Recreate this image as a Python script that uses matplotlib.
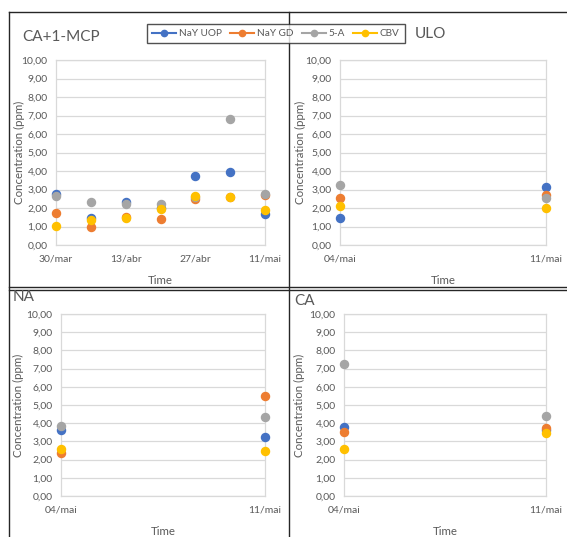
import numpy as np
import matplotlib
matplotlib.use('Agg')
import matplotlib.pyplot as plt
from matplotlib.lines import Line2D
from matplotlib.ticker import FuncFormatter

plt.rcParams['font.family'] = ['Lato', 'DejaVu Sans']

series = ['NaY UOP', 'NaY GD', '5-A', 'CBV']
colors = ['#4472C4', '#ED7D31', '#A5A5A5', '#FFC000']

# days since 30/mar
days_mcp = [0, 7, 14, 21, 28, 35, 42]
ticks_mcp = [0, 14, 28, 42]
ticklabels_mcp = ['30/mar', '13/abr', '27/abr', '11/mai']
days_may = [0, 7]
ticklabels_may = ['04/mai', '11/mai']

mcp_vals = {
    'NaY UOP': [2.73, 1.47, 2.33, 2.00, 3.73, 3.93, 1.65],
    'NaY GD':  [1.71, 0.97, 1.54, 1.40, 2.50, 2.57, 2.69],
    '5-A':     [2.66, 2.30, 2.23, 2.19, 2.60, 6.82, 2.75],
    'CBV':     [1.04, 1.36, 1.47, 1.94, 2.64, 2.57, 1.89],
}
ulo_vals = {
    'NaY UOP': [1.44, 3.14],
    'NaY GD':  [2.55, 2.69],
    '5-A':     [3.27, 2.55],
    'CBV':     [2.10, 1.99],
}
na_vals = {
    'NaY UOP': [3.64, 3.22],
    'NaY GD':  [2.38, 5.48],
    '5-A':     [3.86, 4.36],
    'CBV':     [2.58, 2.47],
}
ca_vals = {
    'NaY UOP': [3.79, 3.60],
    'NaY GD':  [3.52, 3.74],
    '5-A':     [7.27, 4.41],
    'CBV':     [2.58, 3.44],
}

W, H = 567, 537
fig = plt.figure(figsize=(W / 100, H / 100), dpi=100)

def px_axes(x0, y0, x1, y1):
    return fig.add_axes([x0 / W, 1 - y1 / H, (x1 - x0) / W, (y1 - y0) / H])

txt = '#595959'
grid = '#D9D9D9'

def setup(ax, x, vals, ticks, ticklabels, ylab_x):
    for s, c in zip(series, colors):
        ax.plot(x, vals[s], 'o', color=c, markersize=5.8, clip_on=False, zorder=3)
    ax.set_xlim(x[0], x[-1])
    ax.set_ylim(0, 10)
    ax.set_yticks(np.arange(0, 11, 1))
    ax.yaxis.set_major_formatter(FuncFormatter(lambda v, p: f'{v:.2f}'.replace('.', ',')))
    ax.set_xticks(ticks)
    ax.set_xticklabels(ticklabels)
    ax.grid(axis='y', color=grid, linewidth=0.9)
    ax.set_axisbelow(True)
    for sp in ax.spines.values():
        sp.set_color(grid)
        sp.set_linewidth(0.9)
    ax.tick_params(length=0, labelsize=7.5, colors=txt)
    ax.tick_params(axis='y', pad=6)
    ax.tick_params(axis='x', pad=7)
    ax.set_ylabel('Concentration (ppm)', fontsize=8.3, color=txt, va='center')
    ax.yaxis.set_label_coords(ylab_x, 0.5)
    ax.set_xlabel('Time', fontsize=8.3, color=txt, labelpad=8)

ax1 = px_axes(56, 60, 265, 245)
setup(ax1, days_mcp, mcp_vals, ticks_mcp, ticklabels_mcp, -0.177)
ax2 = px_axes(340, 60, 546, 245)
setup(ax2, days_may, ulo_vals, days_may, ticklabels_may, -0.194)
ax3 = px_axes(61, 314, 265, 496)
setup(ax3, days_may, na_vals, days_may, ticklabels_may, -0.206)
ax4 = px_axes(344, 314, 546, 496)
setup(ax4, days_may, ca_vals, days_may, ticklabels_may, -0.218)

# panel titles
fig.text(22 / W, 1 - 37 / H, 'CA+1-MCP', fontsize=11, color=txt, va='center')
fig.text(415 / W, 1 - 34 / H, 'ULO', fontsize=11, color=txt, va='center')
fig.text(13 / W, 1 - 297 / H, 'NA', fontsize=11, color=txt, va='center')
fig.text(294 / W, 1 - 301 / H, 'CA', fontsize=11, color=txt, va='center')

# chart borders / dividers
def hline(y, x0, x1):
    fig.add_artist(Line2D([x0 / W, x1 / W], [1 - y / H, 1 - y / H], color='#262626', lw=1.0))

def vline(x, y0, y1):
    fig.add_artist(Line2D([x / W, x / W], [1 - y0 / H, 1 - y1 / H], color='#262626', lw=1.0))

hline(12, 9, 567)
vline(9, 12, 537)
vline(289, 12, 537)
hline(286.5, 9, 567)
hline(289.5, 9, 567)

# legend
handles = [Line2D([], [], color=c, marker='o', markersize=4.5, lw=1.5) for c in colors]
leg = fig.legend(handles, series, loc='center', bbox_to_anchor=(276 / W, 1 - 33.5 / H),
                 ncol=4, fontsize=7.2, frameon=True, fancybox=False, handlelength=2.4,
                 handletextpad=0.3, columnspacing=0.8, borderpad=0.5)
leg.get_frame().set_edgecolor('#262626')
leg.get_frame().set_linewidth(1.0)
for t in leg.get_texts():
    t.set_color(txt)

fig.savefig('out.png', dpi=100)
